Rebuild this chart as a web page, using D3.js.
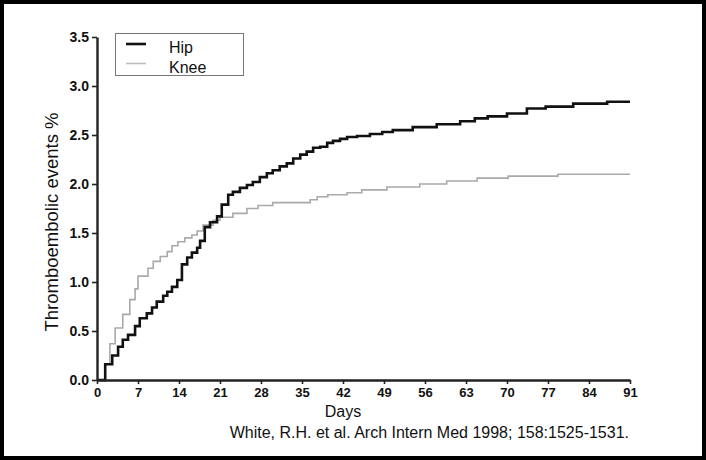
<!DOCTYPE html>
<html>
<head>
<meta charset="utf-8">
<script src="https://cdn.jsdelivr.net/npm/d3@7"></script>
<style>
  html, body { margin: 0; padding: 0; background: #fff; }
  svg { display: block; }
  text { font-family: "Liberation Sans", Arial, Helvetica, sans-serif; fill: #111; }
</style>
</head>
<body>
<svg id="chart" width="706" height="460"></svg>
<script>
// ---- Data ----
const xTicks = [0, 7, 14, 21, 28, 35, 42, 49, 56, 63, 70, 77, 84, 91];
const yTicks = [0.0, 0.5, 1.0, 1.5, 2.0, 2.5, 3.0, 3.5];
const seriesNames = ["Hip", "Knee"];

const hipDays = [0, 1.4, 2.6, 3.6, 4.4, 5.3, 6.5, 7.3, 8.5, 9.4, 10.2, 11.3, 12.0, 12.8, 13.7,
  14.5, 15.4, 16.2, 17.1, 17.6, 18.4, 19.3, 20.5, 21.3, 22.4, 23.2, 24.4, 25.6, 26.6, 27.8,
  29.0, 30.0, 31.2, 32.4, 33.5, 34.7, 35.8, 36.9, 38.1, 39.3, 40.3, 41.5, 42.7, 44.4, 46.6,
  48.7, 50.5, 53.9, 58.0, 62.0, 64.5, 66.7, 70.0, 73.4, 76.6, 81.3, 87.1, 91];
const hipValues = [0, 0.16, 0.25, 0.34, 0.41, 0.46, 0.55, 0.63, 0.68, 0.74, 0.80, 0.86, 0.90, 0.95, 1.02,
  1.18, 1.25, 1.30, 1.35, 1.42, 1.56, 1.61, 1.67, 1.79, 1.89, 1.92, 1.96, 1.99, 2.02, 2.07,
  2.11, 2.14, 2.18, 2.21, 2.26, 2.30, 2.33, 2.37, 2.38, 2.42, 2.44, 2.46, 2.48, 2.49, 2.51,
  2.53, 2.55, 2.58, 2.61, 2.64, 2.67, 2.69, 2.72, 2.77, 2.79, 2.82, 2.84, 2.84];

const kneeDays = [0, 1.4, 2.2, 3.1, 4.4, 5.6, 6.5, 7.0, 8.7, 9.6, 10.8, 12.0, 12.8, 13.8, 15.0,
  16.2, 17.1, 18.1, 19.8, 21.0, 23.2, 25.6, 27.5, 30.0, 36.4, 37.6, 39.4, 42.7, 45.2, 49.5,
  55.1, 59.7, 64.9, 70.2, 78.7, 91];
const kneeValues = [0, 0.16, 0.37, 0.53, 0.67, 0.82, 0.93, 1.06, 1.14, 1.21, 1.26, 1.31, 1.37, 1.41, 1.45,
  1.48, 1.52, 1.58, 1.63, 1.66, 1.70, 1.75, 1.78, 1.81, 1.84, 1.87, 1.89, 1.91, 1.94, 1.97,
  2.00, 2.03, 2.06, 2.08, 2.10, 2.10];

// ---- Layout ----
const svg = d3.select("#chart");
const W = 706, H = 460;
const m = { left: 97, right: 75, top: 37, bottom: 80 };

const x = d3.scaleLinear().domain([0, 91]).range([97, 630]);
const y = d3.scaleLinear().domain([0, 3.5]).range([380, 37]);

svg.append("rect").attr("x", 0).attr("y", 0).attr("width", W).attr("height", H).attr("fill", "#fff");

// Series
const line = d3.line().curve(d3.curveStepAfter).x(d => x(d[0])).y(d => y(d[1]));
const kneeData = kneeDays.map((d, i) => [d, kneeValues[i]]);
const hipData = hipDays.map((d, i) => [d, hipValues[i]]);

svg.append("path").datum(kneeData).attr("d", line)
  .attr("fill", "none").attr("stroke", "#a9a9a9").attr("stroke-width", 1.6);
svg.append("path").datum(hipData).attr("d", line)
  .attr("fill", "none").attr("stroke", "#111").attr("stroke-width", 2.6);

// Axes
const xAxis = d3.axisBottom(x).tickValues(xTicks).tickSize(4).tickSizeOuter(0).tickPadding(4)
  .tickFormat(d3.format("d"));
const gx = svg.append("g").attr("transform", "translate(0,380)").call(xAxis);
gx.select(".domain").attr("stroke", "#222").attr("stroke-width", 2.4);
gx.selectAll(".tick line").attr("stroke", "#222").attr("stroke-width", 1.6);
gx.selectAll(".tick text").style("font-family", "'Liberation Sans', Arial, sans-serif")
  .style("font-size", "13px").style("font-weight", "bold").attr("fill", "#111").attr("dy", "0.72em");

const yAxis = d3.axisLeft(y).tickValues(yTicks).tickSize(5).tickSizeOuter(0).tickPadding(3)
  .tickFormat(d3.format(".1f"));
const gy = svg.append("g").attr("transform", "translate(97,0)").call(yAxis);
gy.select(".domain").attr("stroke", "#222").attr("stroke-width", 2.4);
gy.selectAll(".tick line").attr("stroke", "#222").attr("stroke-width", 1.6);
gy.selectAll(".tick text").style("font-family", "'Liberation Sans', Arial, sans-serif")
  .style("font-size", "14px").style("font-weight", "bold").attr("fill", "#111");

// Axis titles
svg.append("text").attr("x", 343).attr("y", 417).attr("text-anchor", "middle")
  .style("font-size", "16px").text("Days");
svg.append("text").attr("transform", "translate(58,222) rotate(-90)").attr("text-anchor", "middle")
  .style("font-size", "18.5px").text("Thromboembolic events %");

// Citation
svg.append("text").attr("x", 629).attr("y", 438).attr("text-anchor", "end")
  .style("font-size", "16px").text("White, R.H. et al. Arch Intern Med 1998; 158:1525-1531.");

// Legend
const lg = svg.append("g");
lg.append("rect").attr("x", 115.5).attr("y", 33.5).attr("width", 128).attr("height", 42)
  .attr("fill", "#fff").attr("stroke", "#777").attr("stroke-width", 1);
const legendColors = ["#111", "#bdbdbd"];
const legendWidths = [2.6, 1.6];
seriesNames.forEach((name, i) => {
  const ly = 44 + i * 19.5;
  lg.append("line").attr("x1", 126).attr("x2", 146).attr("y1", ly).attr("y2", ly)
    .attr("stroke", legendColors[i]).attr("stroke-width", legendWidths[i]);
  lg.append("text").attr("x", 169).attr("y", 53 + i * 20).style("font-size", "16px").text(name);
});

// Outer frame
svg.append("rect").attr("x", 2).attr("y", 2).attr("width", W - 4).attr("height", H - 4)
  .attr("fill", "none").attr("stroke", "#000").attr("stroke-width", 4);
</script>
</body>
</html>
